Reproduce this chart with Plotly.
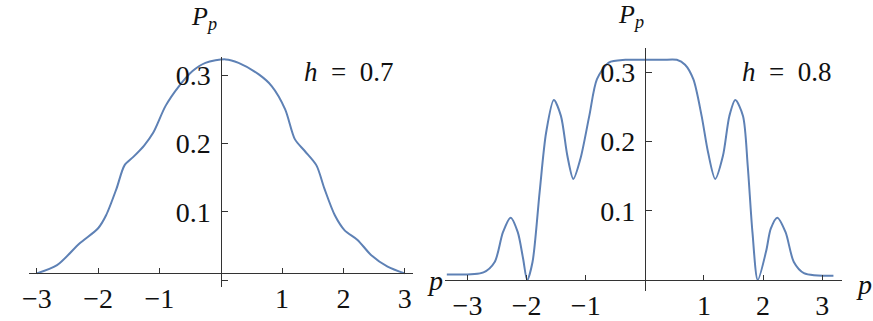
import plotly.graph_objects as go

W, H = 873, 321

# h = 0.7 panel
p_h07 = [-3.0, -2.67, -2.3, -2.0, -1.87, -1.7, -1.57, -1.43, -1.25, -1.1, -0.9, -0.68,
         -0.46, -0.25, 0.08, 0.29, 0.62, 0.83, 1.05, 1.21, 1.37, 1.56, 1.69, 1.86, 2.02,
         2.23, 2.45, 2.72, 3.0]
P_h07 = [0.010, 0.022, 0.054, 0.076, 0.095, 0.134, 0.168, 0.180, 0.197, 0.216, 0.255, 0.284,
         0.306, 0.318, 0.323, 0.318, 0.301, 0.284, 0.250, 0.206, 0.189, 0.168, 0.134, 0.095,
         0.073, 0.059, 0.037, 0.020, 0.010]

# h = 0.8 panel
p_h08 = [-3.35, -2.73, -2.54, -2.40, -2.27, -2.15, -2.06, -1.99, -1.90, -1.78, -1.67, -1.54,
         -1.42, -1.31, -1.21, -1.09, -0.94, -0.81, -0.61, -0.33, 0.0, 0.3, 0.54, 0.68, 0.82,
         0.96, 1.07, 1.19, 1.32, 1.43, 1.53, 1.66, 1.74, 1.82, 1.91, 2.05, 2.13, 2.24, 2.38,
         2.52, 2.69, 3.19]
P_h08 = [0.008, 0.011, 0.026, 0.069, 0.090, 0.069, 0.031, 0.000, 0.026, 0.127, 0.213, 0.260,
         0.237, 0.179, 0.146, 0.175, 0.237, 0.290, 0.314, 0.318, 0.318, 0.318, 0.318, 0.311,
         0.290, 0.237, 0.184, 0.146, 0.179, 0.237, 0.260, 0.237, 0.165, 0.069, 0.000, 0.041,
         0.074, 0.090, 0.069, 0.026, 0.010, 0.006]

x_ticks = [-3, -2, -1, 1, 2, 3]
x_ticktext = ["\u22123", "\u22122", "\u22121", "1", "2", "3"]
y_ticks_left = [0, 0.1, 0.2, 0.3]
y_ticktext_left = ["", "0.1", "0.2", "0.3"]
y_ticks_right = [0.1, 0.2, 0.3]
y_ticktext_right = ["0.1", "0.2", "0.3"]

LINE = "#5e81b5"
AXIS = "#333333"
FONT = "Liberation Serif, Times New Roman, serif"


def px(x):
    return x / W


def py(y):
    return 1 - y / H


fig = go.Figure()
fig.add_trace(go.Scatter(x=p_h07, y=P_h07, mode="lines", line=dict(color=LINE, width=2, shape="spline", smoothing=0.8),
                         xaxis="x", yaxis="y", showlegend=False))
fig.add_trace(go.Scatter(x=p_h08, y=P_h08, mode="lines", line=dict(color=LINE, width=2, shape="spline", smoothing=0.8),
                         xaxis="x2", yaxis="y2", showlegend=False))

tick_font = dict(family=FONT, size=28, color="#111")
common_x = dict(showgrid=False, zeroline=False, showline=True, linecolor=AXIS, linewidth=1.2,
                ticks="inside", ticklen=5, tickcolor=AXIS, tickvals=x_ticks, ticktext=x_ticktext,
                tickfont=tick_font, anchor="free", fixedrange=True)
common_y = dict(showgrid=False, zeroline=False, showline=True, linecolor=AXIS, linewidth=1.2,
                ticks="inside", ticklen=6, tickcolor=AXIS, tickfont=tick_font, anchor="free",
                side="left", ticklabelstandoff=4, fixedrange=True)

fig.update_layout(
    width=W, height=H, margin=dict(l=0, r=0, t=0, b=0),
    paper_bgcolor="white", plot_bgcolor="white",
    xaxis=dict(common_x, domain=[px(22), px(409)], range=[-3.13, 3.13], position=py(275)),
    yaxis=dict(common_y, domain=[py(289), py(57.7)], range=[-0.0102, 0.326], position=px(215.3),
               tickvals=y_ticks_left, ticktext=y_ticktext_left),
    xaxis2=dict(common_x, domain=[px(441.7), px(841.7)], range=[-3.378, 3.334], position=py(281.7)),
    yaxis2=dict(common_y, domain=[py(293.3), py(48.3)], range=[-0.01665, 0.3351], position=px(643),
                tickvals=y_ticks_right, ticktext=y_ticktext_right),
)

annotations = [
    (199, 18, "<i>P</i><sub><i>p</i></sub>", 26),
    (344, 72, "<i>h</i>\u2002=\u20020.7", 27),
    (431, 282, "<i>p</i>", 28),
    (629, 16, "<i>P</i><sub><i>p</i></sub>", 26),
    (786, 72, "<i>h</i>\u2002=\u20020.8", 27),
    (864, 286, "<i>p</i>", 28),
]
for x, y, t, s in annotations:
    fig.add_annotation(x=px(x), y=py(y), xref="paper", yref="paper", text=t, showarrow=False,
                       font=dict(family=FONT, size=s, color="#111"), xanchor="center", yanchor="middle")

# the page's default body margin would shift the whole chart by 8px
fig.write_html("out.html", config={"displayModeBar": False},
               post_script="document.body.style.margin = '0';")
